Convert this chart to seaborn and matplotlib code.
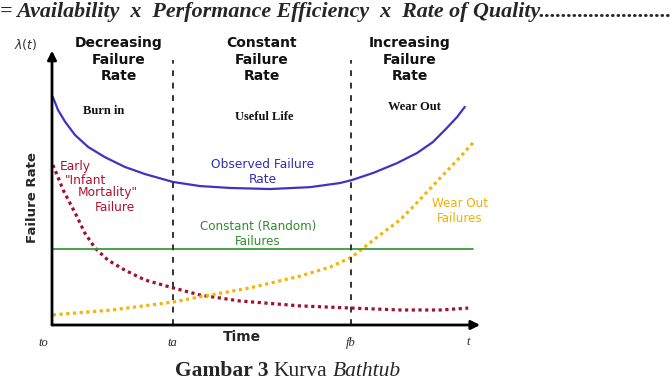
import seaborn as sns
import matplotlib
import matplotlib.pyplot as plt
from matplotlib.offsetbox import TextArea, HPacker, AnchoredOffsetbox

matplotlib.use('Agg')

# time axis runs 0..10, rate axis runs 0..10 (abstract units)
TA = 2.84
FB = 7.02

# observed failure rate (blue solid curve)
obs_time = [0.02, 0.14, 0.31, 0.54, 0.85, 1.24, 1.71, 2.18, 2.84, 3.47, 4.18, 5.12,
            6.06, 6.76, 7.04, 7.54, 8.10, 8.57, 8.94, 9.27, 9.51, 9.69]
obs_rate = [8.35, 7.88, 7.44, 6.96, 6.52, 6.15, 5.79, 5.53, 5.24, 5.09, 5.02, 4.98,
            5.05, 5.20, 5.31, 5.57, 5.93, 6.30, 6.70, 7.22, 7.62, 7.99]

# early "infant mortality" failures (red dotted)
infant_time = [0.02, 0.14, 0.26, 0.42, 0.59, 0.77, 1.01, 1.31, 1.71, 2.18, 2.84, 3.47,
               4.41, 5.82, 7.04, 8.17, 9.11, 9.77]
infant_rate = [5.86, 5.42, 4.95, 4.47, 3.96, 3.37, 2.82, 2.38, 2.01, 1.65, 1.36, 1.10,
               0.88, 0.70, 0.62, 0.55, 0.55, 0.62]

# wear out failures (yellow dotted)
wear_time = [0.02, 1.41, 2.84, 3.47, 4.65, 5.82, 6.53, 7.04, 7.70, 8.17, 8.47,
             9.11, 9.58, 9.88]
wear_rate = [0.37, 0.55, 0.84, 1.03, 1.36, 1.79, 2.12, 2.49, 3.30, 3.85, 4.32,
             5.38, 6.15, 6.67]

# constant (random) failures (green)
const_time = [0.02, 9.88]
const_rate = [2.78, 2.78]

sns.set_style("white")
plt.rcParams['font.family'] = ['DejaVu Sans']

fig = plt.figure(figsize=(6.7, 3.82), dpi=100)
ax = fig.add_axes([52 / 670, 57 / 382, 426 / 670, 273 / 382])
ax.set_xlim(0, 10)
ax.set_ylim(0, 10)
ax.axis('off')

# curves
sns.lineplot(x=obs_time, y=obs_rate, ax=ax, color="#3d35c2", lw=1.6, sort=False, estimator=None)
sns.lineplot(x=infant_time, y=infant_rate, ax=ax, color="#a3102c", lw=2.3,
             linestyle=(0, (1, 1.1)), sort=False, estimator=None)
sns.lineplot(x=wear_time, y=wear_rate, ax=ax, color="#f2b705", lw=2.3,
             linestyle=(0, (1, 1.1)), sort=False, estimator=None)
sns.lineplot(x=const_time, y=const_rate, ax=ax, color="#3c9a3c", lw=1.3, sort=False, estimator=None)

# phase boundaries
for xb in (TA, FB):
    ax.plot([xb, xb], [0, 9.7], color="#333333", lw=1.4, linestyle=(0, (3, 3.4)), clip_on=False)

# axes with arrows
arrow = dict(arrowstyle='-|>', lw=2, color='black', mutation_scale=13, shrinkA=0, shrinkB=0)
ax.annotate('', xy=(10.05, 0), xytext=(0, 0), arrowprops=arrow, annotation_clip=False)
ax.annotate('', xy=(0, 10.05), xytext=(0, 0), arrowprops=arrow, annotation_clip=False)

# phase headings
head = dict(ha='center', va='center', fontsize=10, fontweight='bold', linespacing=1.25, color='#111111')
ax.text(1.57, 9.72, "Decreasing\nFailure\nRate", **head, clip_on=False)
ax.text(4.93, 9.72, "Constant\nFailure\nRate", **head, clip_on=False)
ax.text(8.40, 9.72, "Increasing\nFailure\nRate", **head, clip_on=False)

serif = dict(ha='center', va='center', fontsize=9, fontweight='bold', family='Liberation Serif', color='#111111')
ax.text(1.22, 7.84, "Burn in", **serif)
ax.text(4.98, 7.62, "Useful Life", **serif)
ax.text(8.50, 7.99, "Wear Out", **serif)

# curve labels
ax.text(4.95, 5.60, "Observed Failure\nRate", ha='center', va='center', fontsize=8.8,
        color="#2f2fb0", linespacing=1.15)
ax.text(4.84, 3.33, "Constant (Random)\nFailures", ha='center', va='center', fontsize=8.6,
        color="#2e8b2e", linespacing=1.15)
ax.text(9.58, 4.18, "Wear Out\nFailures", ha='center', va='center', fontsize=8.6,
        color="#f0b000", linespacing=1.15)
red = dict(ha='left', va='center', fontsize=8.8, color="#b0122e")
ax.text(0.19, 5.79, "Early", **red)
ax.text(0.31, 5.31, "\"Infant", **red)
ax.text(0.61, 4.84, "Mortality\"", **red)
ax.text(1.01, 4.32, "Failure", **red)

# axis titles
ax.text(-0.45, 4.65, "Failure Rate", rotation=90, ha='center', va='center', fontsize=9.5,
        fontweight='bold', clip_on=False)
ax.text(4.46, -0.44, "Time", ha='center', va='center', fontsize=10, fontweight='bold', clip_on=False)
ax.text(-0.61, 10.26, r"$\lambda(t)$", ha='center', va='center', fontsize=9, color='#333333',
        family='Liberation Serif', clip_on=False)

tick = dict(ha='center', va='center', fontsize=9, style='italic', family='Liberation Serif', clip_on=False)
ax.text(-0.21, -0.66, "to", **tick)
ax.text(2.82, -0.66, "ta", **tick)
ax.text(7.02, -0.66, "fb", **tick)
ax.text(9.77, -0.62, "t", **tick)

# surrounding document text
fig.text(0.0, 1 - 17 / 382, "= Availability  x  Performance Efficiency  x  Rate of Quality" + "." * 24,
         ha='left', va='baseline', fontsize=15.8, fontweight='bold', style='italic',
         family='Liberation Serif')

parts = [
    TextArea("Gambar 3", textprops=dict(fontsize=15.5, fontweight='bold', family='Liberation Serif')),
    TextArea("Kurva", textprops=dict(fontsize=15.5, family='Liberation Serif')),
    TextArea("Bathtub", textprops=dict(fontsize=15.5, style='italic', family='Liberation Serif')),
]
caption = HPacker(children=parts, align='baseline', pad=0, sep=4)
box = AnchoredOffsetbox(loc='lower center', child=caption, pad=0, borderpad=0, frameon=False,
                        bbox_to_anchor=(288 / 670, 1 / 382), bbox_transform=fig.transFigure)
fig.add_artist(box)

plt.savefig("out.png", dpi=100)
